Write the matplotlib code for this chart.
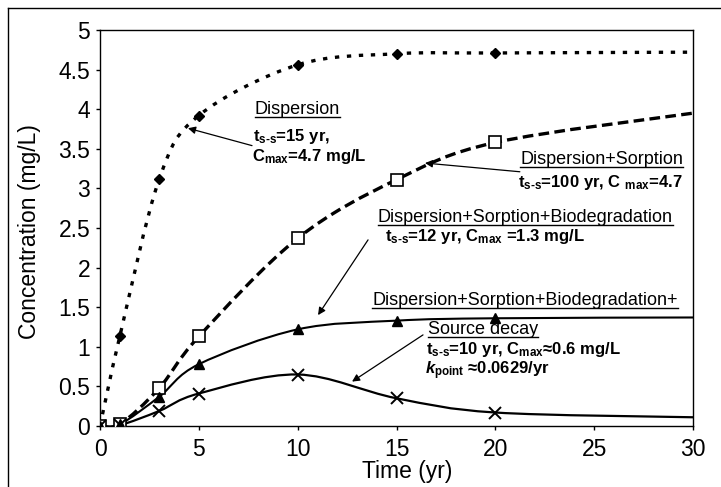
import numpy as np
import matplotlib
matplotlib.use("Agg")
import matplotlib.pyplot as plt
from matplotlib.path import Path
from matplotlib.patches import PathPatch
from matplotlib.lines import Line2D

plt.rcParams['font.family'] = ['Liberation Sans', 'DejaVu Sans']
plt.rcParams['mathtext.fontset'] = 'custom'
plt.rcParams['mathtext.rm'] = 'Liberation Sans:bold'
plt.rcParams['mathtext.it'] = 'Liberation Sans:italic:bold'
plt.rcParams['mathtext.bf'] = 'Liberation Sans:bold'

# data (last point at t=30 has no marker)
time = [0, 1, 3, 5, 10, 15, 20, 30]
dispersion = [0, 1.13, 3.12, 3.92, 4.56, 4.70, 4.71, 4.72]
disp_sorp = [0, 0.02, 0.48, 1.13, 2.37, 3.11, 3.58, 3.95]
disp_sorp_bio = [0, 0.02, 0.37, 0.78, 1.22, 1.33, 1.36, 1.37]
source_decay = [0, 0.01, 0.19, 0.41, 0.65, 0.35, 0.17, 0.11]


def smooth_path(x, y):
    # excel-like smoothed line (catmull-rom as bezier segments)
    p = np.column_stack([x, y]).astype(float)
    verts = [p[0]]
    codes = [Path.MOVETO]
    n = len(p)
    for i in range(n - 1):
        p0 = p[i - 1] if i > 0 else p[i]
        p1, p2 = p[i], p[i + 1]
        p3 = p[i + 2] if i + 2 < n else p[i + 1]
        c1 = p1 + (p2 - p0) / 6.0
        c2 = p2 - (p3 - p1) / 6.0
        verts += [c1, c2, p2]
        codes += [Path.CURVE4] * 3
    return Path(verts, codes)


fig = plt.figure(figsize=(7.21, 4.87), dpi=100)
ax = fig.add_axes([0.1387, 0.1253, 0.8225, 0.8131])

series = [
    (dispersion, (0, (1.3, 2.3)), 2.4, dict(marker='D', ms=5.5, mfc='black', mec='black')),
    (disp_sorp, (0, (3.2, 1.6)), 2.4, dict(marker='s', ms=8, mfc='white', mec='black', mew=1.2)),
    (disp_sorp_bio, '-', 1.5, dict(marker='^', ms=7, mfc='black', mec='black')),
    (source_decay, '-', 1.6, dict(marker='x', ms=8, mec='black', mew=1.4)),
]
for vals, ls, lw, mk in series:
    patch = PathPatch(smooth_path(time, vals), facecolor='none', edgecolor='black',
                      lw=lw, linestyle=ls, capstyle='butt', zorder=2)
    ax.add_patch(patch)
    ax.plot(time[:-1], vals[:-1], linestyle='none', zorder=3, **mk)

ax.set_xlim(0, 30)
ax.set_ylim(0, 5)
ax.set_xticks(range(0, 31, 5))
ax.set_yticks(np.arange(0, 5.01, 0.5))
ax.set_yticklabels(['%g' % v for v in np.arange(0, 5.01, 0.5)])
ax.tick_params(direction='out', length=3, width=1, labelsize=16.5)
ax.tick_params(axis='x', pad=6)
ax.tick_params(axis='y', pad=4)
for s in ax.spines.values():
    s.set_linewidth(1.0)

ax.set_xlabel('Time (yr)', fontsize=16.5)
ax.set_ylabel('Concentration (mg/L)', fontsize=16.5)
ax.xaxis.set_label_coords(0.518, -0.085)
ax.yaxis.set_label_coords(-0.1, 0.49)

# annotations
title_kw = dict(fontsize=13, va='center')
bold_kw = dict(fontsize=12, va='center', fontweight='bold')
underlined = []

underlined.append(ax.text(7.84, 3.99, 'Dispersion', ha='left', **title_kw))
ax.text(7.74, 3.65, r'$\mathrm{t_{s\text{-}s}}$=15 yr,', ha='left', **bold_kw)
ax.text(7.69, 3.40, r'$\mathrm{C_{max}}$=4.7 mg/L', ha='left', **bold_kw)

underlined.append(ax.text(29.49, 3.36, 'Dispersion+Sorption', ha='right', **title_kw))
ax.text(29.49, 3.08, r'$\mathrm{t_{s\text{-}s}}$=100 yr, C $\mathrm{_{max}}$=4.7', ha='right', **bold_kw)

underlined.append(ax.text(14.06, 2.63, 'Dispersion+Sorption+Biodegradation', ha='left', **title_kw))
ax.text(14.42, 2.39, r'$\mathrm{t_{s\text{-}s}}$=12 yr, $\mathrm{C_{max}}$ =1.3 mg/L', ha='left', **bold_kw)

underlined.append(ax.text(13.76, 1.59, 'Dispersion+Sorption+Biodegradation+', ha='left', **title_kw))
underlined.append(ax.text(16.59, 1.22, 'Source decay', ha='left', **title_kw))
ax.text(16.49, 0.96, r'$\mathrm{t_{s\text{-}s}}$=10 yr, $\mathrm{C_{max}}$≈0.6 mg/L', ha='left', **bold_kw)
ax.text(16.44, 0.70, r'$\mathit{k}_\mathrm{point}$ ≈0.0629/yr', ha='left', **bold_kw)

arrow = dict(arrowstyle='-|>', lw=0.9, color='black', mutation_scale=11, shrinkA=0, shrinkB=0)
ax.annotate('', xy=(4.45, 3.76), xytext=(7.69, 3.54), arrowprops=arrow)
ax.annotate('', xy=(16.44, 3.32), xytext=(21.24, 3.21), arrowprops=arrow)
ax.annotate('', xy=(11.03, 1.40), xytext=(13.56, 2.35), arrowprops=arrow)
ax.annotate('', xy=(12.75, 0.56), xytext=(16.34, 1.15), arrowprops=arrow)

# underline the series titles
renderer = fig.canvas.get_renderer()
inv = fig.transFigure.inverted()
for t in underlined:
    bb = t.get_window_extent(renderer)
    (x0, y0), (x1, _) = inv.transform([[bb.x0, bb.y0 + 1], [bb.x1, bb.y0 + 1]])
    fig.add_artist(Line2D([x0, x1], [y0, y0], color='black', lw=1.0))

# outer frame (left and top edges)
fig.add_artist(Line2D([8 / 721, 8 / 721], [0, 1 - 8 / 487], color='black', lw=1.0))
fig.add_artist(Line2D([8 / 721, 1], [1 - 8 / 487, 1 - 8 / 487], color='black', lw=1.0))

fig.savefig('out.png', dpi=100)
